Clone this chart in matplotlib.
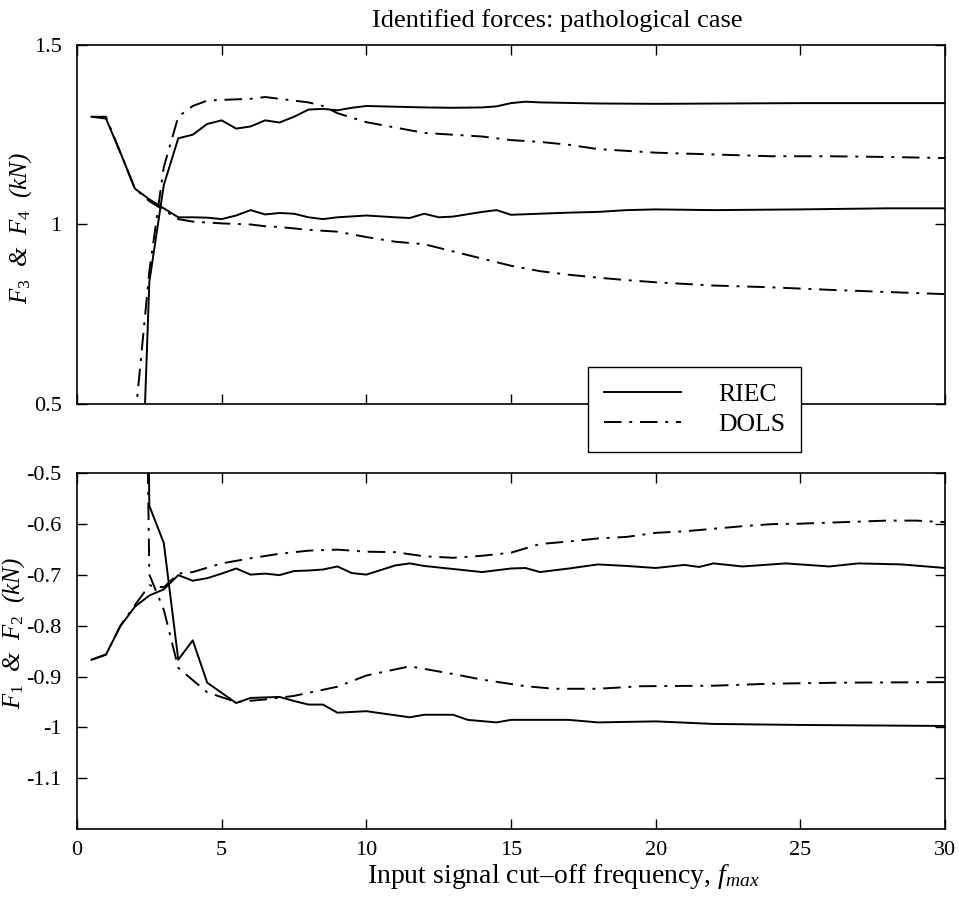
import numpy as np
import matplotlib
matplotlib.use('Agg')
import matplotlib.pyplot as plt

plt.rcParams['font.family'] = ['Liberation Serif', 'DejaVu Serif']
plt.rcParams['mathtext.fontset'] = 'custom'
plt.rcParams['mathtext.rm'] = 'Liberation Serif'
plt.rcParams['mathtext.it'] = 'Liberation Serif:italic'

# F3 (starts at 1.3, settles near 1)
f3_freq = [0.5, 1.0, 1.5, 2.0, 2.5, 3.0, 3.5, 4.0, 4.5, 5.0, 5.5, 6.0, 6.5, 7.0, 7.5,
           8.0, 8.5, 9.0, 10.0, 11.0, 11.5, 12.0, 12.5, 13.0, 14.0, 14.5, 15.0, 16.0,
           17.0, 18.0, 19.0, 20.0, 22.0, 25.0, 28.0, 30.0]
f3_riec = [1.30, 1.295, 1.20, 1.10, 1.07, 1.045, 1.02, 1.02, 1.019, 1.015, 1.025, 1.04,
           1.028, 1.032, 1.03, 1.02, 1.015, 1.02, 1.025, 1.02, 1.018, 1.03, 1.02, 1.022,
           1.035, 1.04, 1.027, 1.03, 1.033, 1.035, 1.04, 1.042, 1.04, 1.042, 1.045, 1.045]

f3_dols_freq = [0.5, 1.0, 1.5, 2.0, 2.5, 3.0, 3.5, 4.0, 5.0, 6.0, 6.5, 7.0, 8.0, 9.0,
                10.0, 11.0, 12.0, 13.0, 14.0, 15.0, 16.0, 17.0, 18.0, 19.0, 20.0, 22.0,
                24.0, 26.0, 28.0, 30.0]
f3_dols = [1.30, 1.30, 1.20, 1.10, 1.065, 1.04, 1.015, 1.008, 1.003, 1.0, 0.995, 0.993,
           0.985, 0.98, 0.965, 0.952, 0.945, 0.925, 0.905, 0.885, 0.87, 0.86, 0.852,
           0.845, 0.839, 0.83, 0.825, 0.818, 0.812, 0.806]

# F4 (rises from far below, settles near 1.3)
f4_freq = [2.0, 2.5, 3.0, 3.5, 4.0, 4.5, 5.0, 5.5, 6.0, 6.5, 7.0, 7.5, 8.0, 8.5, 9.0,
           9.5, 10.0, 11.0, 12.0, 13.0, 14.0, 14.5, 15.0, 15.5, 16.0, 18.0, 20.0, 25.0, 30.0]
f4_riec = [-0.3, 0.84, 1.11, 1.24, 1.25, 1.28, 1.29, 1.267, 1.273, 1.29, 1.284, 1.30,
           1.32, 1.322, 1.318, 1.325, 1.33, 1.328, 1.326, 1.325, 1.326, 1.329, 1.338,
           1.342, 1.34, 1.337, 1.336, 1.338, 1.338]

f4_dols_freq = [2.0, 2.5, 3.0, 3.5, 4.0, 4.5, 5.0, 6.0, 6.5, 7.0, 8.0, 8.5, 9.0, 10.0,
                11.0, 12.0, 13.0, 14.0, 15.0, 16.0, 17.0, 18.0, 19.0, 20.0, 22.0, 24.0,
                26.0, 28.0, 30.0]
f4_dols = [0.45, 0.87, 1.16, 1.30, 1.33, 1.345, 1.347, 1.35, 1.355, 1.35, 1.34, 1.33,
           1.31, 1.285, 1.27, 1.255, 1.25, 1.245, 1.235, 1.23, 1.222, 1.21, 1.205, 1.2,
           1.195, 1.19, 1.19, 1.188, 1.185]

# F1 (rises from -0.87 to about -0.69)
f1_freq = [0.5, 1.0, 1.5, 2.0, 2.5, 3.0, 3.5, 4.0, 4.5, 5.0, 5.5, 6.0, 6.5, 7.0, 7.5,
           8.0, 8.5, 9.0, 9.5, 10.0, 11.0, 11.5, 12.0, 13.0, 14.0, 15.0, 15.5, 16.0,
           17.0, 18.0, 19.0, 20.0, 21.0, 21.5, 22.0, 23.0, 24.5, 26.0, 27.0, 28.5, 30.0]
f1_riec = [-0.867, -0.857, -0.801, -0.763, -0.741, -0.729, -0.701, -0.712, -0.707,
           -0.698, -0.688, -0.70, -0.698, -0.701, -0.693, -0.692, -0.69, -0.684, -0.697,
           -0.70, -0.682, -0.678, -0.683, -0.689, -0.695, -0.688, -0.687, -0.695, -0.688,
           -0.680, -0.683, -0.687, -0.681, -0.685, -0.678, -0.684, -0.678, -0.684,
           -0.678, -0.68, -0.687]

f1_dols_freq = [0.5, 1.0, 1.5, 2.0, 2.5, 3.0, 3.5, 4.0, 5.0, 6.0, 7.0, 8.0, 9.0, 10.0,
                11.0, 12.0, 13.0, 14.0, 15.0, 16.0, 17.0, 18.0, 19.0, 20.0, 21.0, 22.0,
                23.0, 24.0, 25.0, 26.0, 27.0, 28.0, 29.0, 30.0]
f1_dols = [-0.867, -0.857, -0.80, -0.76, -0.721, -0.725, -0.698, -0.695, -0.678,
           -0.668, -0.659, -0.653, -0.651, -0.655, -0.656, -0.664, -0.667, -0.663,
           -0.657, -0.640, -0.635, -0.629, -0.626, -0.618, -0.615, -0.61, -0.605,
           -0.601, -0.600, -0.598, -0.596, -0.594, -0.594, -0.597]

# F2 (drops from far above, settles near -0.95)
f2_freq = [2.0, 2.5, 3.0, 3.5, 4.0, 4.5, 5.0, 5.5, 6.0, 7.0, 7.5, 8.0, 8.5, 9.0, 10.0,
           11.0, 11.5, 12.0, 13.0, 13.5, 14.5, 15.0, 17.0, 18.0, 20.0, 22.0, 25.0, 30.0]
f2_riec = [2.0, -0.565, -0.638, -0.867, -0.829, -0.912, -0.932, -0.952, -0.942, -0.94,
           -0.948, -0.955, -0.955, -0.971, -0.968, -0.976, -0.98, -0.975, -0.975,
           -0.985, -0.99, -0.985, -0.985, -0.99, -0.988, -0.993, -0.995, -0.997]

f2_dols_freq = [2.0, 2.5, 3.0, 3.5, 4.5, 5.5, 6.5, 7.5, 9.0, 10.0, 11.5, 13.0, 14.0,
                15.5, 16.5, 18.0, 19.5, 22.0, 24.0, 26.5, 30.0]
f2_dols = [1.3, -0.70, -0.769, -0.883, -0.931, -0.95, -0.945, -0.938, -0.92, -0.898,
           -0.88, -0.895, -0.906, -0.919, -0.924, -0.924, -0.919, -0.918, -0.914,
           -0.912, -0.911]

xticks = [0, 5, 10, 15, 20, 25, 30]
top_yticks = [0.5, 1.0, 1.5]
top_ylabels = ['0.5', '1', '1.5']
bot_yticks = [-1.1, -1.0, -0.9, -0.8, -0.7, -0.6, -0.5]
bot_ylabels = ['-1.1', '-1', '-0.9', '-0.8', '-0.7', '-0.6', '-0.5']

dashdot = (0, (9, 4, 1.5, 4))
lw = 1.4

fig = plt.figure(figsize=(9.59, 8.99), dpi=100)
ax1 = fig.add_axes([0.0803, 0.5506, 0.9051, 0.3994])
ax2 = fig.add_axes([0.0803, 0.0774, 0.9051, 0.3968])

l1, = ax1.plot(f3_freq, f3_riec, 'k-', lw=lw)
l2, = ax1.plot(f3_dols_freq, f3_dols, color='k', ls=dashdot, lw=lw)
ax1.plot(f4_freq, f4_riec, 'k-', lw=lw)
ax1.plot(f4_dols_freq, f4_dols, color='k', ls=dashdot, lw=lw)

ax2.plot(f1_freq, f1_riec, 'k-', lw=lw)
ax2.plot(f1_dols_freq, f1_dols, color='k', ls=dashdot, lw=lw)
ax2.plot(f2_freq, f2_riec, 'k-', lw=lw)
ax2.plot(f2_dols_freq, f2_dols, color='k', ls=dashdot, lw=lw)

for ax in (ax1, ax2):
    ax.set_xlim(0, 30)
    ax.set_xticks(xticks)
    ax.tick_params(direction='in', top=True, right=True, length=7, width=1,
                   labelsize=16)
    ax.tick_params(axis='x', pad=8)
    ax.tick_params(axis='y', pad=11)
    for s in ax.spines.values():
        s.set_linewidth(1.2)

ax1.set_ylim(0.5, 1.5)
ax1.set_yticks(top_yticks)
ax1.set_yticklabels(top_ylabels)
ax1.set_xticklabels([])
ax1.set_ylabel(r'$F_3$  &  $F_4$  (kN)', style='italic', fontsize=18)
ax1.yaxis.set_label_coords(-0.05, 0.49)
ax1.set_title('Identified forces: pathological case', fontsize=19, pad=13, x=0.553)

ax2.set_ylim(-1.2, -0.5)
ax2.set_yticks(bot_yticks)
ax2.set_yticklabels(bot_ylabels)
ax2.set_xticklabels([str(t) for t in xticks])
ax2.set_ylabel(r'$F_1$  &  $F_2$  (kN)', style='italic', fontsize=18)
ax2.yaxis.set_label_coords(-0.0575, 0.55)
ax2.set_xlabel('Input signal cut\u2013off frequency, $f_{max}$', fontsize=20)
ax2.xaxis.set_label_coords(0.56, -0.092)

leg = fig.legend([l1, l2], ['RIEC', 'DOLS'], loc='upper left',
                 bbox_to_anchor=(0.613, 0.5915), fontsize=18.5, frameon=True,
                 fancybox=False, edgecolor='k', framealpha=1,
                 handlelength=3.0, handletextpad=1.45, borderpad=0.62,
                 labelspacing=0.26, borderaxespad=0, handleheight=0.7)
leg.get_frame().set_linewidth(1.0)
leg.set_zorder(10)

fig.savefig('out.png', dpi=100)
